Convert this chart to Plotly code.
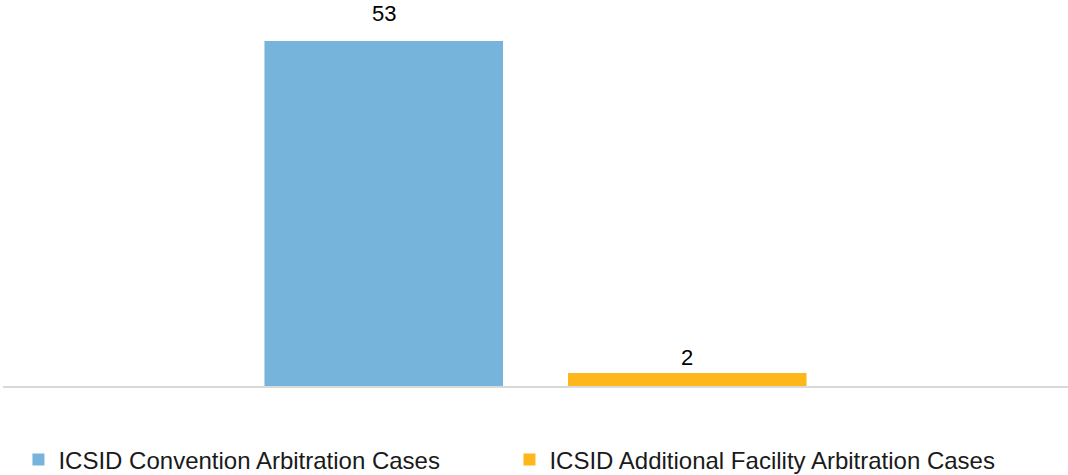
import plotly.graph_objects as go

categories = ["Cases"]
series_names = ["ICSID Convention Arbitration Cases", "ICSID Additional Facility Arbitration Cases"]
series_values = [[53], [2]]
series_colors = ["#77B4DB", "#FDB71A"]
label_shifts = [27, 15]

fig = go.Figure()
for name, vals, col in zip(series_names, series_values, series_colors):
    fig.add_trace(go.Bar(x=categories, y=vals, name=name, marker=dict(color=col, line=dict(width=0))))

# value labels
for i, (vals, sh) in enumerate(zip(series_values, label_shifts)):
    for c, v in zip(categories, vals):
        fig.add_annotation(x=c, y=v, text=str(v), showarrow=False, xref="x", yref="y",
                           xshift=(-1 if i == 0 else 1) * 151.75, yshift=sh, yanchor="middle",
                           font=dict(size=22, color="#000000"))

fig.update_layout(
    width=1068, height=475,
    margin=dict(l=3, r=0, t=10, b=89, autoexpand=False),
    paper_bgcolor="white", plot_bgcolor="white",
    font=dict(family="Arial, Liberation Sans, sans-serif", size=22, color="#000000"),
    barmode="group", bargap=0.43, bargroupgap=0.214,
    showlegend=True,
    legend=dict(orientation="h", x=0.0145, y=-0.137, xanchor="left", yanchor="top",
                entrywidth=446, entrywidthmode="pixels", font=dict(size=24, color="#1a1a1a")),
    xaxis=dict(showticklabels=False, showline=True, linecolor="#D9D9D9", linewidth=2,
               ticks="", showgrid=False, zeroline=False),
    yaxis=dict(visible=False, range=[0, 57.76], showgrid=False, zeroline=False),
)

fig.write_html("out.html", config={"displayModeBar": False},
               post_script="document.body.style.margin='0';document.body.style.overflow='hidden';")
